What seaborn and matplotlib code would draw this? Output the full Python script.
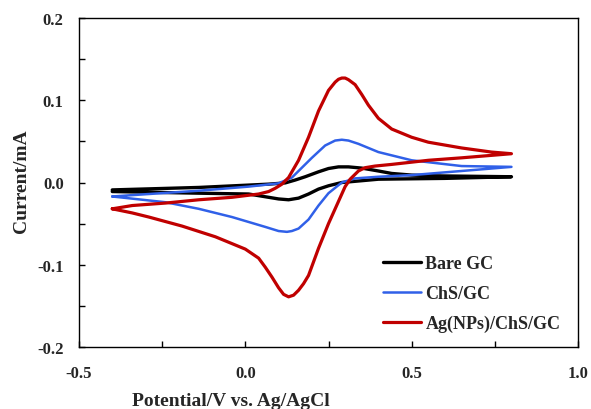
import numpy as np
import pandas as pd
import matplotlib
matplotlib.use("Agg")
import matplotlib.pyplot as plt
from matplotlib.ticker import MultipleLocator, FormatStrFormatter
import seaborn as sns

# Bare GC loop (forward scan then reverse scan)
bare_x = [-0.40, -0.14, 0.07, 0.12, 0.15, 0.18, 0.22, 0.25, 0.28, 0.31, 0.35, 0.40, 0.44, 0.50, 0.59, 0.80,
          0.60, 0.40, 0.345, 0.29, 0.25, 0.22, 0.19, 0.16, 0.13, 0.10, 0.07, 0.01, -0.14, -0.40]
bare_y = [-0.009, -0.006, -0.002, -0.0005, 0.003, 0.007, 0.013, 0.017, 0.019, 0.019, 0.0175, 0.014, 0.011, 0.009, 0.008, 0.007,
          0.005, 0.004, 0.002, 0.000, -0.004, -0.008, -0.014, -0.019, -0.021, -0.020, -0.018, -0.014, -0.013, -0.011]

# ChS/GC loop
chs_x = [-0.40, -0.29, -0.14, 0.01, 0.10, 0.14, 0.17, 0.20, 0.24, 0.27, 0.29, 0.31, 0.34, 0.37, 0.40, 0.50, 0.65, 0.80,
         0.65, 0.50, 0.40, 0.33, 0.29, 0.25, 0.22, 0.19, 0.16, 0.14, 0.125, 0.10, 0.06, -0.04, -0.14, -0.24, -0.40]
chs_y = [-0.017, -0.014, -0.010, -0.005, -0.001, 0.006, 0.018, 0.030, 0.045, 0.051, 0.052, 0.051, 0.047, 0.042, 0.037, 0.027, 0.020, 0.019,
         0.014, 0.009, 0.007, 0.005, 0.000, -0.013, -0.028, -0.045, -0.056, -0.059, -0.060, -0.059, -0.054, -0.042, -0.032, -0.024, -0.017]

# Ag(NPs)/ChS/GC loop
ag_x = [-0.40, -0.34, -0.24, -0.14, -0.04, 0.04, 0.07, 0.09, 0.11, 0.13, 0.16, 0.19, 0.22, 0.25, 0.27, 0.28, 0.29, 0.30, 0.31, 0.33, 0.35,
        0.37, 0.40, 0.44, 0.50, 0.55, 0.65, 0.74, 0.80,
        0.74, 0.65, 0.55, 0.44, 0.39, 0.36, 0.34, 0.315, 0.30, 0.28, 0.25, 0.22, 0.19, 0.175, 0.16, 0.145, 0.13, 0.115, 0.10, 0.08, 0.06, 0.04,
        0.0, -0.09, -0.19, -0.29, -0.34, -0.40]
ag_y = [-0.032, -0.028, -0.025, -0.021, -0.018, -0.014, -0.011, -0.007, -0.002, 0.006, 0.027, 0.055, 0.087, 0.112, 0.122, 0.1255, 0.127, 0.127, 0.125, 0.119, 0.107,
        0.094, 0.078, 0.065, 0.055, 0.049, 0.042, 0.037, 0.035,
        0.033, 0.030, 0.027, 0.022, 0.020, 0.018, 0.014, 0.004, -0.005, -0.023, -0.050, -0.080, -0.113, -0.123, -0.131, -0.137, -0.139, -0.136, -0.128, -0.115, -0.103, -0.092,
        -0.081, -0.066, -0.053, -0.042, -0.037, -0.032]

labels = ["Bare GC", "ChS/GC", "Ag(NPs)/ChS/GC"]
colors = ["#000000", "#3060E8", "#C00000"]
widths = [2.4, 1.8, 2.3]

sns.set_style("white")
plt.rcParams["font.family"] = ["Liberation Serif", "DejaVu Serif"]
plt.rcParams["font.weight"] = "bold"
plt.rcParams["axes.unicode_minus"] = False
plt.rcParams["lines.solid_joinstyle"] = "round"

fig = plt.figure(figsize=(5.91, 4.10), dpi=100)
ax = fig.add_axes([79 / 591, 62 / 410, 499 / 591, 329 / 410])

for (xs, ys), lab, c, w in zip([(bare_x, bare_y), (chs_x, chs_y), (ag_x, ag_y)], labels, colors, widths):
    df = pd.DataFrame({"E": xs, "I": ys})
    sns.lineplot(data=df, x="E", y="I", sort=False, estimator=None, color=c, lw=w, label=lab, ax=ax)

ax.set_xlim(-0.5, 1.0)
ax.set_ylim(-0.2, 0.2)
ax.xaxis.set_major_locator(MultipleLocator(0.5))
ax.xaxis.set_minor_locator(MultipleLocator(0.25))
ax.yaxis.set_major_locator(MultipleLocator(0.1))
ax.yaxis.set_minor_locator(MultipleLocator(0.05))
ax.xaxis.set_major_formatter(FormatStrFormatter("%.1f"))
ax.yaxis.set_major_formatter(FormatStrFormatter("%.1f"))
ax.tick_params(which="both", direction="in", length=4, width=1, bottom=True, left=True, top=False, right=False, color="black")
ax.tick_params(axis="x", which="major", labelsize=12, pad=13)
ax.tick_params(axis="y", which="major", labelsize=12, pad=11)
for lab in ax.get_xticklabels() + ax.get_yticklabels():
    lab.set_fontweight("bold")
for sp in ax.spines.values():
    sp.set_color("black")
    sp.set_linewidth(1.0)
ax.set_xlabel("")
ax.set_ylabel("")

fig.text(231 / 591, 1 - 402 / 410, "Potential/V vs. Ag/AgCl", ha="center", va="center", fontsize=14, fontweight="bold")
fig.text(22 / 591, 1 - 181 / 410, "Current/mA", ha="center", va="center", rotation=90, fontsize=14, fontweight="bold")

leg = ax.legend(loc="upper left", bbox_to_anchor=(383 / 591, 1 - 256 / 410), bbox_transform=fig.transFigure,
                frameon=False, fontsize=13, handlelength=2.1, handletextpad=0.25, labelspacing=0.72,
                borderpad=0, borderaxespad=0)
for t in leg.get_texts():
    t.set_fontweight("bold")

fig.savefig("out.png", dpi=100)
